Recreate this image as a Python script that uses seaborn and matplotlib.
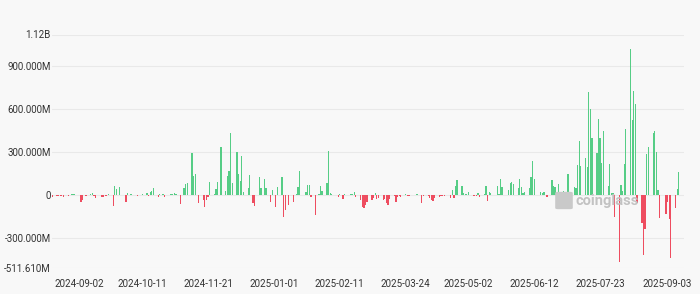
import matplotlib
matplotlib.use("Agg")
import matplotlib.pyplot as plt
import matplotlib.dates as mdates
from matplotlib.patches import FancyBboxPatch
import seaborn as sns
import pandas as pd
import numpy as np

# ---- data (daily net flow, millions USD, US trading days) ----
holidays = ['2024-09-02', '2024-11-28', '2024-12-25', '2025-01-01', '2025-01-09',
            '2025-01-20', '2025-02-17', '2025-04-18', '2025-05-26', '2025-06-19',
            '2025-07-04', '2025-09-01']
aug24 = [-15, -10, -6, -8, -4, -12, -6, 3, 6, 5, 4]
sep24 = [-48, -38, -2, -6, 5, 11, -4, -19, 2, -12, -15, -10, -6, 6, -79, 62, 45, 3, 58, 2]
oct24 = [-49, 15, 3, 6, 1, -10, 2, 3, 10, 14, -10, 20, 30, 48, -15, 10, 2, 4, -15, -3, 10, 8, 12]
nov24 = [6, -62, 3, 51, 77, 82, 295, 136, 147, -3, -58, -35, -82, -35, -12, 89, 10, 40, 90, 333]
dec24 = [25, 135, 165, 430, 82, 300, 148, 98, 270, 23, 47, 140, 3, -58, -77, 124, 47, 112, 47, -52, 35]
jan25 = [-82, 54, 124, -152, -105, -70, -47, 3, 10, 54, 164, 23, 70, 70, -16, -140, 2, 4, 63, 28]
feb25 = [87, 305, 16, 9, 2, -16, 5, 3, -28, 8, 8, 5, 21, -12, -35, -82, -94, -70, -47]
mar25 = [-35, -20, 14, -30, -23, -35, -30, -58, -70, -30, -10, -52, -16, -4, -16, 4, -5, -10, 3, 2, 6]
apr25 = [3, -2, -54, -5, -5, -23, -35, -40, -23, -12, -8, -5, -4, -23, 38, -24, 63, 104, 63, 16, 5]
may25 = [8, 19, -10, -10, -10, 12, -12, 8, 63, -40, 19, 12, 3, 63, 5, 110, 54, 35, 82, 91, 77]
jun25 = [51, 110, 54, 12, 21, 49, 124, 240, 112, -2, 21, 12, 21, -12, 103, 65, 58, -35, 75, 28]
jul25 = [23, 5, 147, 58, 47, 207, 378, 203, 256, 198, 722, 599, 396, 291, 529, 396, 226, 450,
         63, 217, 12, 16]
aug25 = [-152, -465, 70, 30, 217, 459, 1018, 520, 727, 634, -58, -198, -420, -240, 284, 333,
         436, 450, 303, 35, -163]
sep25 = [-135, -47, -165, -443, -93, 42, 163]

tick_dates = ['2024-09-02', '2024-10-11', '2024-11-21', '2025-01-01', '2025-02-11',
              '2025-03-24', '2025-05-02', '2025-06-12', '2025-07-23', '2025-09-03']
y_ticks = [-511.61, -300, 0, 300, 600, 900, 1120]
y_labels = ['-511.610M', '-300.000M', '0', '300.000M', '600.000M', '900.000M', '1.12B']

values = np.array(aug24 + sep24 + oct24 + nov24 + dec24 + jan25 + feb25 + mar25 + apr25
                  + may25 + jun25 + jul25 + aug25 + sep25, dtype=float)
dates = pd.bdate_range('2024-08-16', '2025-09-10', freq='C', holidays=holidays)
assert len(dates) == len(values), (len(dates), len(values))

df = pd.DataFrame({'date': dates, 'value': values})
df['x'] = mdates.date2num(df['date'])

BG = '#f8f8f8'
GREEN = '#56cd86'
RED = '#ee4d60'

sns.set_theme(style='white')
plt.rcParams['font.family'] = ['Roboto', 'DejaVu Sans']

fig = plt.figure(figsize=(7.0, 2.94), dpi=100, facecolor=BG)
W, H = 700, 294
left, right, top, bottom = 52, 684, 34.5, 268.3
ax = fig.add_axes([left / W, 1 - bottom / H, (right - left) / W, (bottom - top) / H])
ax.set_facecolor(BG)

sns.barplot(data=df, x='x', y='value', color=GREEN, native_scale=True, width=0.78,
            errorbar=None, saturation=1, linewidth=0, ax=ax)
for p in ax.patches:
    if p.get_height() < 0:
        p.set_facecolor(RED)

x0 = mdates.date2num(pd.Timestamp('2024-09-02'))
ax.set_xlim(x0 - 17.1, x0 + 376.2)
ax.set_ylim(-511.61, 1120)
ax.set_xticks(mdates.date2num(pd.to_datetime(tick_dates)))
ax.set_xticklabels(tick_dates)
ax.set_yticks(y_ticks)
ax.set_yticklabels(y_labels)
ax.set_xlabel('')
ax.set_ylabel('')
ax.grid(axis='y', color='#e9e9e9', linewidth=0.8)
ax.grid(axis='x', visible=False)
ax.set_axisbelow(True)
for s in ax.spines.values():
    s.set_visible(False)
ax.tick_params(axis='y', length=0, pad=1, labelsize=7, labelcolor='#333333')
ax.tick_params(axis='x', length=0, pad=8, labelsize=7, labelcolor='#333333')

# watermark
fig.text(576 / W, 1 - 200.5 / H, 'coinglass', color='#c2c2c2', fontsize=10.5,
         fontweight='bold', va='center', ha='left', family=['Roboto', 'DejaVu Sans'])
blob = FancyBboxPatch((558 / W, 1 - 208 / H), 12 / W, 15 / H,
                      boxstyle='round,pad=0.004', transform=fig.transFigure,
                      facecolor='#c9c9c9', edgecolor='none', zorder=5)
fig.patches.append(blob)

fig.savefig('out.png', dpi=100, facecolor=BG)
